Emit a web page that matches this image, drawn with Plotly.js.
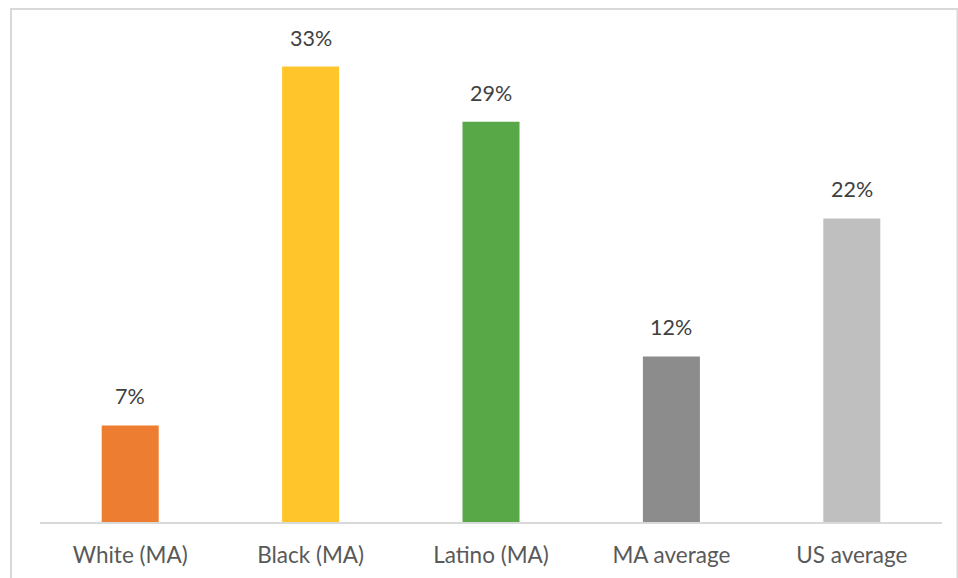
<!DOCTYPE html>
<html>
<head>
<meta charset="utf-8">
<script src="https://cdn.plot.ly/plotly-3.0.1.min.js"></script>
<style>
html,body{margin:0;padding:0;background:#fff;}
#chart{width:958px;height:578px;}
</style>
</head>
<body>
<div id="chart"></div>
<script>
const categories = ["White (MA)", "Black (MA)", "Latino (MA)", "MA average", "US average"];
const values = [7, 33, 29, 12, 22];
const labels = ["7%", "33%", "29%", "12%", "22%"];
const colors = ["#ED7D31", "#FFC52A", "#58A847", "#8C8C8C", "#BFBFBF"];

const trace = {
  type: "bar",
  x: categories,
  y: values,
  marker: {color: colors, line: {width: 0}},
  hoverinfo: "none"
};

const annotations = categories.map((c, i) => ({
  x: c, y: values[i], xref: "x", yref: "y",
  text: labels[i], showarrow: false,
  yanchor: "bottom", yshift: 14,
  font: {family: "Lato, 'Liberation Sans', sans-serif", size: 21.5, color: "#404040"}
}));

const layout = {
  width: 958, height: 578,
  margin: {l: 40, r: 16, t: 39, b: 56},
  paper_bgcolor: "#ffffff",
  plot_bgcolor: "#ffffff",
  showlegend: false,
  bargap: 0.684,
  xaxis: {
    type: "category",
    showgrid: false, zeroline: false,
    showline: true, linecolor: "#D9D9D9", linewidth: 2,
    ticks: "outside", ticklen: 12, tickcolor: "rgba(0,0,0,0)",
    tickfont: {family: "Lato, 'Liberation Sans', sans-serif", size: 22.5, color: "#595959"}
  },
  yaxis: {
    range: [0, 35], visible: false, fixedrange: true
  },
  annotations: annotations,
  shapes: [{
    type: "rect", xref: "paper", yref: "paper", layer: "below",
    x0: (11 - 40) / 902, x1: (957.5 - 40) / 902,
    y0: -0.5, y1: (569 - 56) / 483,
    line: {color: "#D9D9D9", width: 2}, fillcolor: "rgba(0,0,0,0)"
  }]
};

Plotly.newPlot("chart", [trace], layout, {displayModeBar: false, staticPlot: true});
</script>
</body>
</html>
